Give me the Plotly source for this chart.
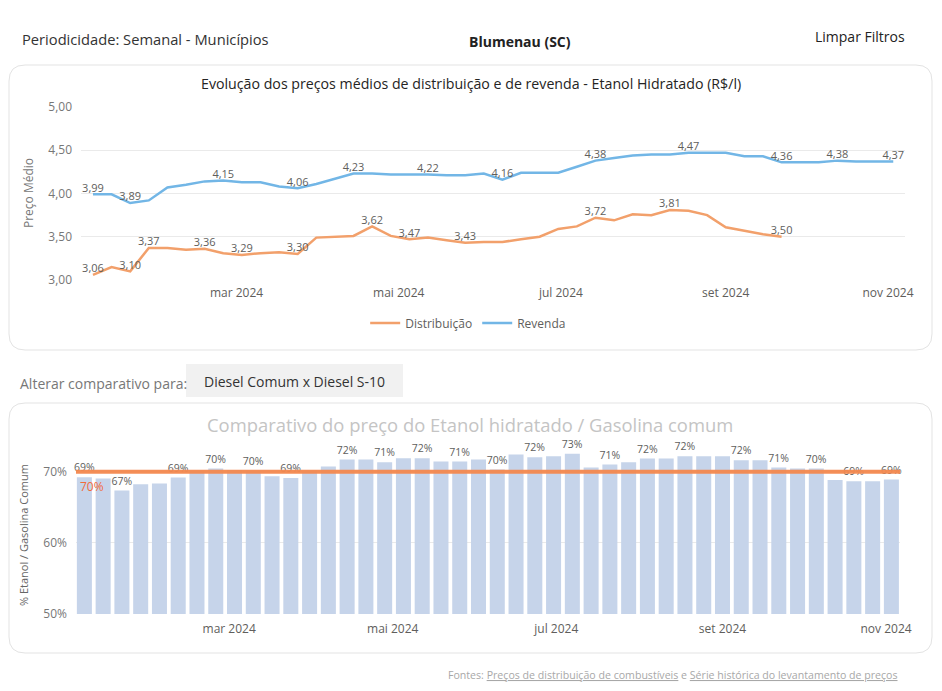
import plotly.graph_objects as go

W, H = 942, 691
FONT = "Open Sans"

# ---------------- data ----------------
dates = ["2024-01-07", "2024-01-14", "2024-01-21", "2024-01-28",
         "2024-02-04", "2024-02-11", "2024-02-18", "2024-02-25",
         "2024-03-03", "2024-03-10", "2024-03-17", "2024-03-24", "2024-03-31",
         "2024-04-07", "2024-04-14", "2024-04-21", "2024-04-28",
         "2024-05-05", "2024-05-12", "2024-05-19", "2024-05-26",
         "2024-06-02", "2024-06-09", "2024-06-16", "2024-06-23", "2024-06-30",
         "2024-07-07", "2024-07-14", "2024-07-21", "2024-07-28",
         "2024-08-04", "2024-08-11", "2024-08-18", "2024-08-25",
         "2024-09-01", "2024-09-08", "2024-09-15", "2024-09-22", "2024-09-29",
         "2024-10-06", "2024-10-13", "2024-10-20", "2024-10-27",
         "2024-11-03"]

revenda = [3.99, 3.99, 3.89, 3.92, 4.07, 4.10, 4.14, 4.15, 4.13, 4.13,
           4.08, 4.06, 4.11, 4.17, 4.23, 4.23, 4.22, 4.22, 4.22, 4.21,
           4.21, 4.23, 4.16, 4.24, 4.24, 4.24, 4.31, 4.38, 4.41, 4.44,
           4.45, 4.45, 4.47, 4.47, 4.47, 4.43, 4.43, 4.36, 4.36, 4.36,
           4.38, 4.37, 4.37, 4.37]
revenda_label_idx = [0, 2, 7, 11, 14, 18, 22, 27, 32, 37, 40, 43]

distribuicao = [3.06, 3.15, 3.10, 3.37, 3.37, 3.35, 3.36, 3.31, 3.29, 3.31,
                3.32, 3.30, 3.49, 3.50, 3.51, 3.62, 3.51, 3.47, 3.49, 3.46,
                3.43, 3.44, 3.44, 3.47, 3.50, 3.59, 3.62, 3.72, 3.69, 3.76,
                3.75, 3.81, 3.80, 3.75, 3.61, 3.57, 3.53, 3.50]
distribuicao_label_idx = [0, 2, 3, 6, 8, 11, 15, 17, 20, 27, 31, 37]

ratio_pct = [69.25, 69.06, 67.37, 68.26, 68.36, 69.20, 70.19, 70.47, 70.28, 70.19,
             69.39, 69.15, 70.19, 70.75, 71.74, 71.74, 71.36, 71.92, 71.92, 71.45,
             71.45, 71.74, 70.33, 72.44, 72.07, 72.20, 72.55, 70.61, 71.03, 71.36,
             71.88, 71.88, 72.20, 72.20, 72.20, 71.64, 71.64, 70.61, 70.47, 70.47,
             68.87, 68.69, 68.69, 68.92]
ratio_label_idx = [0, 2, 5, 7, 9, 11, 14, 16, 18, 20, 22, 24, 26, 28, 30, 32,
                   35, 37, 39, 41, 43]
parity_pct = 70

tick_dates = ["2024-03-01", "2024-05-01", "2024-07-01", "2024-09-01", "2024-11-01"]
tick_labels = ["mar 2024", "mai 2024", "jul 2024", "set 2024", "nov 2024"]

price_ticks = [3.0, 3.5, 4.0, 4.5, 5.0]
price_tick_labels = ["3,00", "3,50", "4,00", "4,50", "5,00"]
pct_ticks = [50, 60, 70]
pct_tick_labels = ["50%", "60%", "70%"]


def brl(v):
    return f"{v:.2f}".replace(".", ",")


rev_text = [brl(v) if i in revenda_label_idx else "" for i, v in enumerate(revenda)]
dis_text = [brl(v) if i in distribuicao_label_idx else "" for i, v in enumerate(distribuicao)]
ratio_text = [f"{round(v)}%" if i in ratio_label_idx else "" for i, v in enumerate(ratio_pct)]

C_DIS = "#F2A06B"
C_REV = "#72B6E6"
C_BAR = "#C6D4EA"
C_PAR = "#F4894F"
C_TXT = "#605E5C"


def px(x):
    return x / W


def py(y):
    return 1 - y / H


fig = go.Figure()

fig.add_trace(go.Scatter(
    x=dates[:len(distribuicao)], y=distribuicao, name="Distribuição",
    mode="lines+text", text=dis_text, textposition="top center",
    textfont=dict(family=FONT, size=11, color=C_TXT),
    line=dict(color=C_DIS, width=2.5), xaxis="x", yaxis="y", cliponaxis=False))
fig.add_trace(go.Scatter(
    x=dates, y=revenda, name="Revenda",
    mode="lines+text", text=rev_text, textposition="top center",
    textfont=dict(family=FONT, size=11, color=C_TXT),
    line=dict(color=C_REV, width=2.5), xaxis="x", yaxis="y", cliponaxis=False))

fig.add_trace(go.Bar(
    x=dates, y=ratio_pct, text=ratio_text, textposition="outside",
    textfont=dict(family=FONT, size=10.5, color=C_TXT), constraintext="none",
    marker=dict(color=C_BAR, line=dict(width=0)), showlegend=False,
    xaxis="x2", yaxis="y2", cliponaxis=False))


def rounded(x0, y0, x1, y1, r):
    return (f"M {px(x0 + r)} {py(y0)} L {px(x1 - r)} {py(y0)} "
            f"Q {px(x1)} {py(y0)} {px(x1)} {py(y0 + r)} "
            f"L {px(x1)} {py(y1 - r)} Q {px(x1)} {py(y1)} {px(x1 - r)} {py(y1)} "
            f"L {px(x0 + r)} {py(y1)} Q {px(x0)} {py(y1)} {px(x0)} {py(y1 - r)} "
            f"L {px(x0)} {py(y0 + r)} Q {px(x0)} {py(y0)} {px(x0 + r)} {py(y0)} Z")


shapes = [
    dict(type="path", xref="paper", yref="paper", path=rounded(9, 65, 932, 350, 16),
         line=dict(color="#E3E3E3", width=1), fillcolor="rgba(0,0,0,0)", layer="below"),
    dict(type="path", xref="paper", yref="paper", path=rounded(9, 403, 932, 653, 16),
         line=dict(color="#E3E3E3", width=1), fillcolor="rgba(0,0,0,0)", layer="below"),
    dict(type="rect", xref="paper", yref="paper", x0=px(186), x1=px(403), y0=py(364), y1=py(397),
         line=dict(width=0), fillcolor="#F1F1F1", layer="below"),
    dict(type="line", xref="x2 domain", yref="y2", x0=0, x1=1, y0=parity_pct, y1=parity_pct,
         line=dict(color=C_PAR, width=4), opacity=0.95),
]

ann = [
    dict(x=px(20), y=py(39), xanchor="left", yanchor="middle",
         text="Periodicidade: Semanal - Municípios",
         font=dict(family=FONT, size=14.7, color="#333333")),
    dict(x=px(520), y=py(42), xanchor="center", yanchor="middle", text="<b>Blumenau (SC)</b>",
         font=dict(family=FONT, size=14, color="#222222")),
    dict(x=px(907), y=py(36), xanchor="right", yanchor="middle", text="Limpar Filtros",
         font=dict(family=FONT, size=14, color="#222222")),
    dict(x=px(471), y=py(84), xanchor="center", yanchor="middle",
         text="Evolução dos preços médios de distribuição e de revenda - Etanol Hidratado (R$/l)",
         font=dict(family=FONT, size=14.2, color="#252423")),
    dict(x=px(28), y=py(193), xanchor="center", yanchor="middle", text="Preço Médio",
         textangle=-90, font=dict(family=FONT, size=12, color="#777777")),
    dict(x=px(18), y=py(383), xanchor="left", yanchor="middle", text="Alterar comparativo para:",
         font=dict(family=FONT, size=14, color="#777777")),
    dict(x=px(294), y=py(381), xanchor="center", yanchor="middle", text="Diesel Comum x Diesel S-10",
         font=dict(family=FONT, size=14, color="#333333")),
    dict(x=px(470), y=py(424), xanchor="center", yanchor="middle",
         text="Comparativo do preço do Etanol hidratado / Gasolina comum",
         font=dict(family=FONT, size=18.4, color="#C4C4C4")),
    dict(x=px(23), y=py(535), xanchor="center", yanchor="middle", text="% Etanol / Gasolina Comum",
         textangle=-90, font=dict(family=FONT, size=11, color="#666666")),
    dict(xref="x2 domain", yref="y2", x=0.003, y=parity_pct, xanchor="left", yanchor="middle",
         yshift=-15, text=f"{parity_pct}%", font=dict(family=FONT, size=12, color="#F26B3A")),
    dict(x=px(900), y=py(675), xanchor="right", yanchor="middle",
         text="Fontes: <u>Preços de distribuição de combustíveis</u> e "
              "<u>Série histórica do levantamento de preços</u>",
         font=dict(family=FONT, size=10.6, color="#A8A8A8")),
]
for a in ann:
    a.setdefault("xref", "paper")
    a.setdefault("yref", "paper")
    a["showarrow"] = False

axis_common = dict(showline=False, zeroline=False, ticks="", automargin=False)

fig.update_layout(
    autosize=True, margin=dict(l=0, r=0, t=0, b=0, pad=0, autoexpand=False),
    paper_bgcolor="white", plot_bgcolor="white",
    font=dict(family=FONT, color=C_TXT),
    bargap=0.2,
    xaxis=dict(domain=[px(81), px(905)], type="date",
               range=["2024-01-02 12:00", "2024-11-07 10:00"],
               tickvals=tick_dates, ticktext=tick_labels, showgrid=False,
               tickfont=dict(size=12, color=C_TXT), ticklabelstandoff=4, **axis_common),
    yaxis=dict(domain=[py(280), py(107)], range=[3.0, 5.0], tickvals=price_ticks,
               ticktext=price_tick_labels, gridcolor="#EAEAEA", gridwidth=1,
               tickfont=dict(size=12, color="#777777"), ticklabelstandoff=8, **axis_common),
    xaxis2=dict(domain=[px(76), px(900)], type="date", anchor="y2",
                range=["2024-01-03 21:00", "2024-11-06 05:00"],
                tickvals=tick_dates, ticktext=tick_labels, showgrid=False,
                tickfont=dict(size=12, color=C_TXT), ticklabelstandoff=6, **axis_common),
    yaxis2=dict(domain=[py(614), py(447)], range=[50, 73.5], anchor="x2", tickvals=pct_ticks,
                ticktext=pct_tick_labels, gridcolor="#EAEAEA", gridwidth=1,
                tickfont=dict(size=12, color="#777777"), ticklabelstandoff=8, **axis_common),
    legend=dict(orientation="h", x=0.497, xanchor="center", y=py(323), yanchor="middle",
                font=dict(family=FONT, size=12, color=C_TXT), bgcolor="rgba(0,0,0,0)",
                itemwidth=30, tracegroupgap=0),
    shapes=shapes, annotations=ann,
)

fig.write_html("out.html", config={"displayModeBar": False, "responsive": True},
               default_width="100vw", default_height="100vh",
               post_script="document.body.style.margin='0';document.body.style.overflow='hidden';")
